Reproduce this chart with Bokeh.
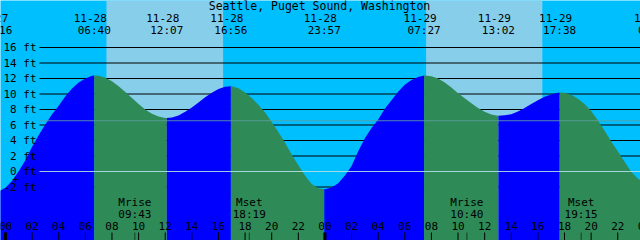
from bokeh.plotting import figure
from bokeh.models import Range1d
from bokeh.core.properties import value
from bokeh.embed import file_html
from bokeh.resources import INLINE

# ---------------- data ----------------
station = "Seattle, Puget Sound, Washington"

tide_dates = ["11-27", "11-28", "11-28", "11-28", "11-28", "11-29", "11-29", "11-29", "11-30"]
tide_times = ["23:16", "06:40", "12:07", "16:56", "23:57", "07:27", "13:02", "17:38", "00:46"]
tide_heights = [-2.6, 12.4, 6.9, 11.0, -2.3, 12.4, 7.2, 10.2, -2.0]

# half-hourly water level (hours from midnight 11-28, -1 .. 49)
sample_hours = [i / 2 for i in range(-2, 99)]
sample_heights = [
    -2.55, -2.55, -2.1, -1.2, 0.05, 1.5, 3.2, 4.7, 6.1, 7.4,
    8.5, 9.7, 10.7, 11.5, 12.0, 12.35, 12.35, 12.1, 11.63, 11.0,
    10.27, 9.47, 8.7, 8.0, 7.45, 7.1, 6.9, 6.98, 7.23, 7.7,
    8.26, 8.9, 9.57, 10.15, 10.63, 10.92, 11.0, 10.75, 10.2, 9.5,
    8.6, 7.6, 6.4, 5.1, 3.7, 2.2, 0.8, -0.5, -1.6, -2.15,
    -2.3, -2.05, -1.5, -0.5, 0.7, 2.6, 4.3, 5.6, 6.7, 8.1,
    9.2, 10.3, 11.2, 11.8, 12.2, 12.4, 12.3, 12.0, 11.5, 10.85,
    10.1, 9.45, 8.8, 8.2, 7.7, 7.35, 7.2, 7.25, 7.4, 7.75,
    8.2, 8.7, 9.2, 9.65, 9.95, 10.15, 10.15, 9.9, 9.4, 8.7,
    7.8, 6.6, 5.3, 3.9, 2.6, 1.3, 0.0, -0.9, -1.5, -1.9,
    -2.0,
]

sun_dates = ["11-28", "11-29"]
sunrise_times = ["07:35", "07:36"]
sunset_times = ["16:21", "16:20"]

moon_labels = ["Mrise", "Mset", "Mrise", "Mset"]
moon_dates = ["11-28", "11-28", "11-29", "11-29"]
moon_times = ["09:43", "18:19", "10:40", "19:15"]

depth_levels = [-2, 2, 4, 6, 8, 10, 12, 14, 16]
depth_labels = ["-2 ft", "2 ft", "4 ft", "6 ft", "8 ft", "10 ft", "12 ft", "14 ft", "16 ft"]
datum_level = 0
datum_label = "0 ft"
msl_level = 6.55

hour_ticks = list(range(0, 50, 2))
hour_labels = ["%02d" % (h % 24) for h in hour_ticks]

# ---------------- helpers ----------------
def to_hours(date, hm):
    day = int(date[3:]) - 28
    hh, mm = hm.split(":")
    return day * 24 + int(hh) + int(mm) / 60.0

PX_H = 13.31      # pixels per hour
X0_PX = 5.0       # pixel of midnight 11-28
PX_FT = 7.75      # pixels per foot
Y0_PX = 171.0     # pixel of 0 ft
W, H = 640, 240

def xd(px):
    return (px - X0_PX) / PX_H

def yd(py):
    return (Y0_PX - py) / PX_FT

x_start, x_end = xd(0), xd(W)
y_top, y_bot = yd(0), yd(H)

FONT = value("DejaVu Sans Mono")
FS = "11px"

p = figure(width=W, height=H, x_range=Range1d(x_start, x_end), y_range=Range1d(y_bot, y_top),
           output_backend="svg", toolbar_location=None, min_border=0,
           background_fill_color="#00BFFF", border_fill_color="#00BFFF")
p.axis.visible = False
p.grid.visible = False
p.outline_line_color = None

# daylight bands
rise_h = [to_hours(d, t) for d, t in zip(sun_dates, sunrise_times)]
set_h = [to_hours(d, t) for d, t in zip(sun_dates, sunset_times)]
p.quad(left=rise_h, right=set_h, bottom=y_bot, top=y_top, fill_color="#87CEEB", line_color=None)

# depth lines
p.segment(x0=[xd(39)] * len(depth_levels), y0=depth_levels, x1=[x_end] * len(depth_levels),
          y1=depth_levels, line_color="black", line_width=1)

# tide curve
ext_h = [to_hours(d, t) for d, t in zip(tide_dates, tide_times)]
pts = sorted(list(zip(sample_hours, sample_heights)) + list(zip(ext_h, tide_heights)))
bounds = [sample_hours[0]] + ext_h + [sample_hours[-1]]
for i in range(len(bounds) - 1):
    a, b = bounds[i], bounds[i + 1]
    seg = [(h, v) for h, v in pts if a <= h <= b]
    if len(seg) < 2:
        continue
    rising = seg[-1][1] > seg[0][1]
    xs = [s[0] for s in seg]
    ys = [s[1] for s in seg]
    p.varea(x=xs, y1=[y_bot] * len(xs), y2=ys, fill_color="#0000FF" if rising else "#2E8B57")

# mean sea level and datum lines
p.segment(x0=[xd(39)], y0=[msl_level], x1=[x_end], y1=[msl_level], line_color="#5F9EA0",
          line_alpha=0.85, line_width=1)
p.segment(x0=[xd(39)], y0=[datum_level], x1=[x_end], y1=[datum_level], line_color="#B0E0E6",
          line_alpha=0.9, line_width=1)

# depth labels
p.text(x=[xd(36)] * (len(depth_levels) + 1), y=depth_levels + [datum_level],
       text=depth_labels + [datum_label], text_align="right", text_baseline="middle",
       text_font=FONT, text_font_size=FS, text_color="black")
p.text(x=[xd(15)], y=[yd(178)], text=["+"], text_align="center", text_baseline="middle",
       text_font=FONT, text_font_size=FS, text_color="black")

# title
p.text(x=[xd(319)], y=[yd(5.5)], text=[station], text_align="center", text_baseline="middle",
       text_font=FONT, text_font_size="11.5px", text_color="black")

# tide event labels
p.text(x=[h - 4 / PX_H for h in ext_h], y=[yd(17)] * len(ext_h), text=tide_dates,
       text_align="center", text_baseline="middle", text_font=FONT, text_font_size=FS,
       text_color="black")
p.text(x=ext_h, y=[yd(29.5)] * len(ext_h), text=tide_times,
       text_align="center", text_baseline="middle", text_font=FONT, text_font_size=FS,
       text_color="black")

# moon labels and marks
moon_h = [to_hours(d, t) for d, t in zip(moon_dates, moon_times)]
p.text(x=moon_h, y=[yd(202)] * len(moon_h), text=moon_labels, text_align="center",
       text_baseline="middle", text_font=FONT, text_font_size=FS, text_color="black")
p.text(x=moon_h, y=[yd(213.5)] * len(moon_h), text=moon_times, text_align="center",
       text_baseline="middle", text_font=FONT, text_font_size=FS, text_color="black")
p.segment(x0=moon_h, y0=[yd(232)] * len(moon_h), x1=moon_h, y1=[y_bot] * len(moon_h),
          line_color="black", line_alpha=0.55, line_width=1)

# hour ticks and labels
minor = [h for h in hour_ticks if h % 24]
major = [h for h in hour_ticks if h % 24 == 0]
p.segment(x0=minor, y0=[yd(232)] * len(minor), x1=minor, y1=[y_bot] * len(minor),
          line_color="black", line_width=1)
p.segment(x0=major, y0=[yd(232)] * len(major), x1=major, y1=[y_bot] * len(major),
          line_color="black", line_width=3)
p.text(x=hour_ticks, y=[yd(225)] * len(hour_ticks), text=hour_labels, text_align="center",
       text_baseline="middle", text_font=FONT, text_font_size=FS, text_color="black")

open("out.html", "w").write(file_html(p, INLINE))
